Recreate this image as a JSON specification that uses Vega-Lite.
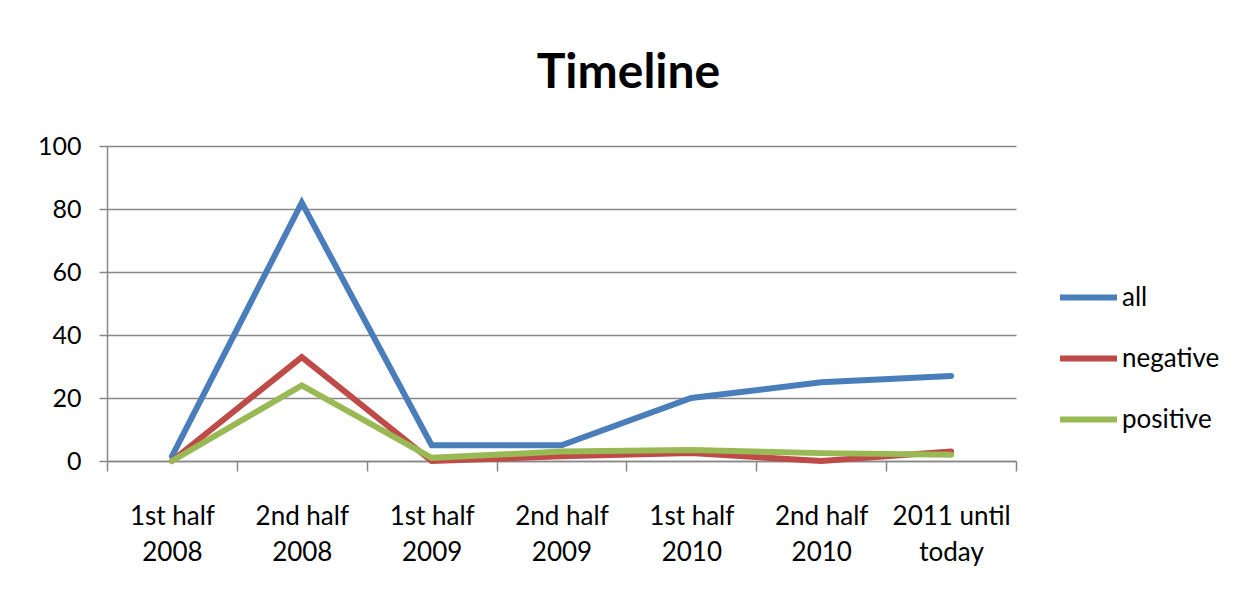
{
  "$schema": "https://vega.github.io/schema/vega-lite/v6.json",
  "width": 909,
  "height": 315,
  "autosize": {"type": "none"},
  "padding": {"left": 107, "top": 146, "right": 234, "bottom": 146},
  "background": "white",
  "title": {
    "text": "Timeline",
    "font": "Lato",
    "fontSize": 48,
    "fontWeight": "bold",
    "color": "black",
    "anchor": "middle",
    "dx": 67,
    "offset": 36
  },
  "data": {
    "values": [
      {"period": "1st half 2008", "series": "all", "value": 1.5},
      {"period": "2nd half 2008", "series": "all", "value": 82},
      {"period": "1st half 2009", "series": "all", "value": 5},
      {"period": "2nd half 2009", "series": "all", "value": 5},
      {"period": "1st half 2010", "series": "all", "value": 20},
      {"period": "2nd half 2010", "series": "all", "value": 25},
      {"period": "2011 until today", "series": "all", "value": 27},
      {"period": "1st half 2008", "series": "negative", "value": 0},
      {"period": "2nd half 2008", "series": "negative", "value": 33},
      {"period": "1st half 2009", "series": "negative", "value": 0},
      {"period": "2nd half 2009", "series": "negative", "value": 1.5},
      {"period": "1st half 2010", "series": "negative", "value": 2.5},
      {"period": "2nd half 2010", "series": "negative", "value": 0},
      {"period": "2011 until today", "series": "negative", "value": 3},
      {"period": "1st half 2008", "series": "positive", "value": 0},
      {"period": "2nd half 2008", "series": "positive", "value": 24},
      {"period": "1st half 2009", "series": "positive", "value": 1},
      {"period": "2nd half 2009", "series": "positive", "value": 3},
      {"period": "1st half 2010", "series": "positive", "value": 3.5},
      {"period": "2nd half 2010", "series": "positive", "value": 2.5},
      {"period": "2011 until today", "series": "positive", "value": 2}
    ]
  },
  "mark": {"type": "line", "strokeWidth": 6, "strokeCap": "round"},
  "encoding": {
    "x": {
      "field": "period",
      "type": "nominal",
      "sort": null,
      "scale": {"type": "band", "paddingInner": 0, "paddingOuter": 0},
      "axis": {
        "title": null,
        "labelAngle": 0,
        "labelFont": "Lato",
        "labelFontSize": 26,
        "labelColor": "black",
        "labelLineHeight": 36,
        "labelPadding": 32,
        "labelBaseline": "top",
        "labelExpr": "isString(datum.value) ? [substring(datum.value, 0, lastindexof(datum.value, ' ')), substring(datum.value, lastindexof(datum.value, ' ') + 1)] : ''",
        "tickBand": "extent",
        "tickSize": 10,
        "tickColor": "#888888",
        "tickWidth": 1.5,
        "domainColor": "#888888",
        "domainWidth": 1.5,
        "grid": false
      }
    },
    "y": {
      "field": "value",
      "type": "quantitative",
      "scale": {"domain": [0, 100], "nice": false},
      "axis": {
        "title": null,
        "values": [0, 20, 40, 60, 80, 100],
        "labelFont": "Lato",
        "labelFontSize": 25,
        "labelColor": "black",
        "labelPadding": 18,
        "tickSize": 8,
        "tickColor": "#888888",
        "tickWidth": 1.5,
        "domainColor": "#888888",
        "domainWidth": 1.5,
        "grid": true,
        "gridColor": "#888888",
        "gridWidth": 1.5
      }
    },
    "color": {
      "field": "series",
      "type": "nominal",
      "scale": {"domain": ["all", "negative", "positive"], "range": ["#4A7EBB", "#BE4B48", "#98B954"]},
      "legend": {
        "title": null,
        "orient": "none",
        "legendX": 950,
        "legendY": 120,
        "symbolType": "stroke",
        "symbolSize": 3249,
        "symbolStrokeWidth": 6,
        "labelFont": "Lato",
        "labelFontSize": 26,
        "labelColor": "black",
        "labelOffset": 2,
        "rowPadding": 16
      }
    }
  },
  "config": {"view": {"stroke": null}}
}
